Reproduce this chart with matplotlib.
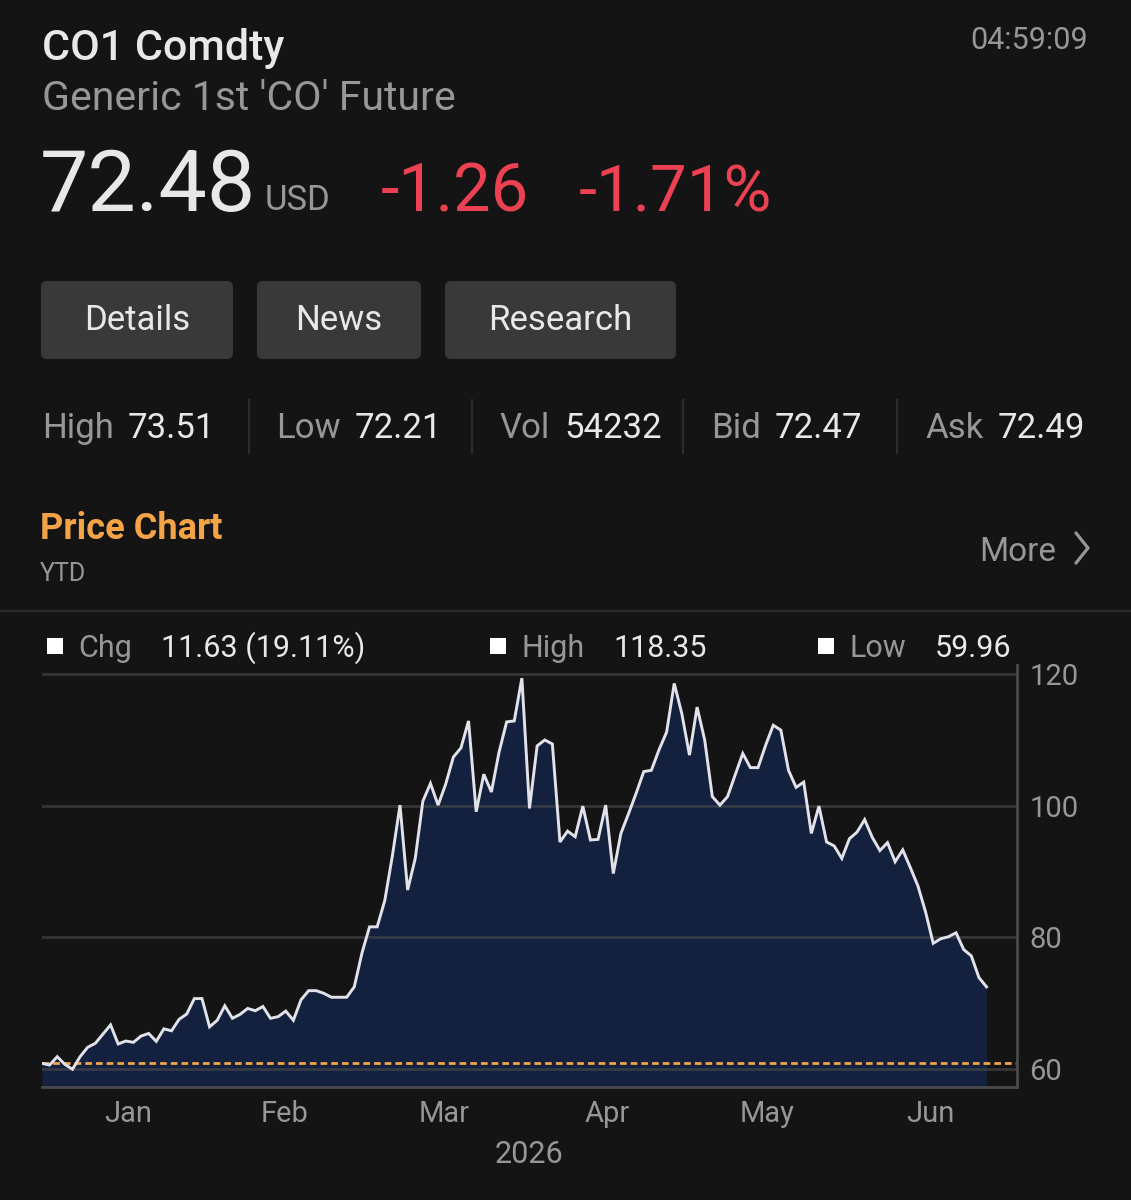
import numpy as np
import matplotlib
matplotlib.use('Agg')
import matplotlib.pyplot as plt
from matplotlib.patches import FancyBboxPatch, Rectangle

plt.rcParams['font.family'] = ['Roboto', 'DejaVu Sans']

# quote header
ticker = 'CO1 Comdty'
name = "Generic 1st 'CO' Future"
quote_time = '04:59:09'
last_price = '72.48'
currency = 'USD'
net_change = '-1.26'
pct_change = '-1.71%'
buttons = ['Details', 'News', 'Research']
stat_labels = ['High', 'Low', 'Vol', 'Bid', 'Ask']
stat_values = ['73.51', '72.21', '54232', '72.47', '72.49']
legend_labels = ['Chg', 'High', 'Low']
legend_values = ['11.63 (19.11%)', '118.35', '59.96']

# YTD daily closes
prices = [60.85, 60.6, 61.87, 60.7, 59.96, 61.87, 63.3, 63.9, 65.3, 66.7,
          63.8, 64.25, 64.05, 65.0, 65.4, 64.2, 66.1, 65.8, 67.55, 68.35,
          70.7, 70.7, 66.4, 67.4, 69.6, 67.7, 68.3, 69.2, 68.85, 69.5,
          67.7, 67.95, 68.8, 67.4, 70.5, 71.9, 71.9, 71.5, 70.9, 70.9,
          70.9, 72.5, 77.6, 81.6, 81.6, 85.6, 92.4, 100.1, 87.2, 92.0,
          100.7, 103.4, 100.1, 103.3, 107.4, 108.8, 112.9, 99.1, 104.8, 102.1,
          108.15, 112.75, 112.9, 119.4, 99.6, 109.1, 110.0, 109.4, 94.5, 96.15,
          95.3, 99.95, 94.8, 94.9, 100.1, 89.7, 95.8, 98.8, 101.9, 105.2,
          105.4, 108.5, 111.2, 118.6, 114.0, 107.7, 115.0, 110.0, 101.4, 100.1,
          101.4, 104.7, 107.95, 105.8, 105.8, 109.2, 112.25, 111.5, 105.4, 102.8,
          103.6, 95.8, 99.95, 94.5, 93.9, 92.0, 95.0, 96.0, 97.9, 95.2,
          93.2, 94.4, 91.5, 93.3, 90.6, 87.8, 83.85, 79.1, 79.8, 80.1,
          80.7, 78.15, 77.2, 73.9, 72.48]
start_price = 60.85
months = ['Jan', 'Feb', 'Mar', 'Apr', 'May', 'Jun']
month_pos = [11.3, 31.8, 52.8, 74.2, 95.2, 116.7]
y_ticks = [60, 80, 100, 120]
year_label = '2026'

# colours
BG = '#141414'
WHITE = '#e8e8e8'
GREY = '#979797'
RED = '#ec4152'
ORANGE = '#f4a446'
BUTTON = '#393939'
RULE = '#2c2c2c'
FILL = '#13213f'

W, H = 1131, 1200
fig = plt.figure(figsize=(W / 100, H / 100), dpi=100, facecolor=BG)

# overlay in pixel units for the header part
ov = fig.add_axes([0, 0, 1, 1], zorder=0)
ov.set_xlim(0, W)
ov.set_ylim(H, 0)
ov.axis('off')


def chain(prev, text, gap, y, **kw):
    # place text right after another text artist, on a given baseline
    return ov.annotate(text, xy=(1, y), xycoords=(prev, 'data'),
                       xytext=(gap, 0), textcoords='offset points',
                       va='baseline', ha='left', **kw)


ov.text(42, 60, ticker, color=WHITE, fontsize=31, fontweight='medium', va='baseline')
ov.text(1088, 49, quote_time, color=GREY, fontsize=22, ha='right', va='baseline')
ov.text(42, 110, name, color=GREY, fontsize=29.5, va='baseline')

t = ov.text(40, 211, last_price, color=WHITE, fontsize=62, va='baseline')
t = chain(t, currency, 6, 210, color=GREY, fontsize=25)
t = chain(t, net_change, 36, 211, color=RED, fontsize=48)
chain(t, pct_change, 36, 211, color=RED, fontsize=47)

# buttons
button_x = [(41, 233), (257, 421), (445, 676)]
for label, (x0, x1) in zip(buttons, button_x):
    ov.add_patch(FancyBboxPatch((x0 + 6, 287), x1 - x0 - 12, 66,
                                boxstyle='round,pad=6', fc=BUTTON, ec='none'))
    ov.text((x0 + x1) / 2, 320, label, color=WHITE, fontsize=25,
            ha='center', va='center')

# stats row
stat_x = [42, 276, 500, 711, 925]
for i, (lab, val) in enumerate(zip(stat_labels, stat_values)):
    t = ov.text(stat_x[i], 438, lab, color=GREY, fontsize=25, va='baseline')
    chain(t, val, 10, 438, color=WHITE, fontsize=25)
for x in [249, 472, 683, 897]:
    ov.plot([x, x], [400, 453], color=RULE, lw=1.5)

# price chart header
ov.text(40, 539, 'Price Chart', color=ORANGE, fontsize=26, fontweight='bold', va='baseline')
ov.text(40, 581, 'YTD', color=GREY, fontsize=18, va='baseline')
ov.text(1056, 561, 'More', color=GREY, fontsize=24, ha='right', va='baseline')
ov.plot([1076, 1088, 1076], [533, 548, 563], color=GREY, lw=2.3,
        solid_capstyle='round', solid_joinstyle='miter')
ov.plot([0, W], [611, 611], color=RULE, lw=1.5)

# legend row
legend_x = [47, 490, 818]
for x, lab, val in zip(legend_x, legend_labels, legend_values):
    ov.add_patch(Rectangle((x, 638), 16, 16, fc='white', ec='none'))
    t = ov.text(x + 31, 657, lab, color=GREY, fontsize=22, va='baseline')
    chain(t, val, 21, 657, color=WHITE, fontsize=22)

# chart
left, right, top, bottom = 42, 1017, 665, 1087
ax = fig.add_axes([left / W, 1 - bottom / H, (right - left) / W, (bottom - top) / H],
                  zorder=1, facecolor=BG)
y_floor = 57.26
x = np.arange(len(prices))
ax.set_xlim(0, 128)
ax.set_ylim(y_floor, 121.4)

ax.fill_between(x, prices, y_floor, color=FILL, lw=0, zorder=1)
ax.plot(x, prices, color='#e2e3ea', lw=2.1, zorder=3, solid_joinstyle='miter')
ax.axhline(start_price, color=ORANGE, lw=2, dashes=(2.4, 1.45), zorder=2.5)

ax.set_axisbelow('line')
ax.set_yticks(y_ticks)
ax.grid(axis='y', color='#4c4c4c', lw=2, alpha=0.6)
ax.yaxis.tick_right()
ax.tick_params(axis='y', length=0, pad=9, labelsize=21, labelcolor=GREY)

ax.set_xticks(month_pos)
ax.set_xticklabels(months)
ax.tick_params(axis='x', length=0, pad=9, labelsize=21, labelcolor=GREY)
ax.set_xlabel(year_label, color=GREY, fontsize=22, labelpad=9)

for s in ['left', 'top']:
    ax.spines[s].set_visible(False)
for s in ['right', 'bottom']:
    ax.spines[s].set_color('#4a4a4a')
    ax.spines[s].set_linewidth(2)

fig.savefig('out.png', dpi=100, facecolor=BG)
